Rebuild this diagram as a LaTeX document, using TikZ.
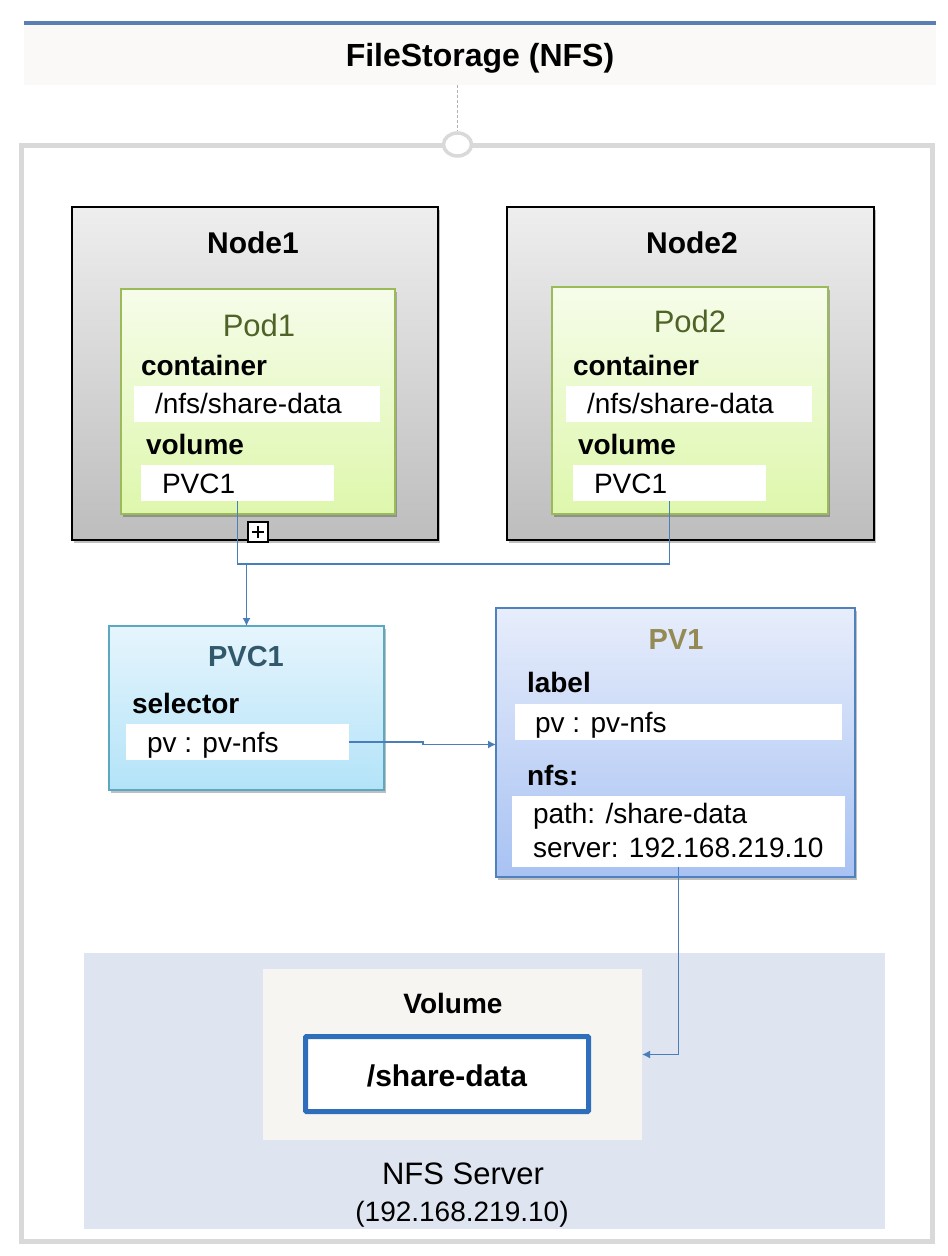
\documentclass[tikz,border=0pt]{standalone}
\usepackage{fontspec}
\setmainfont{Liberation Sans}
\usetikzlibrary{shadows,arrows.meta,calc,shapes.geometric}
\definecolor{hdrblue}{HTML}{5B7FB3}
\definecolor{hdrbg}{HTML}{FAF9F7}
\definecolor{framegray}{HTML}{D9D9D9}
\definecolor{nodetop}{HTML}{EEEEEE}
\definecolor{nodebot}{HTML}{BDBDBD}
\definecolor{podtop}{HTML}{F6FCEA}
\definecolor{podbot}{HTML}{DEF7AC}
\definecolor{podline}{HTML}{9BBB59}
\definecolor{podtext}{HTML}{4F6228}
\definecolor{pvctop}{HTML}{E6F5FD}
\definecolor{pvcbot}{HTML}{B3E3F8}
\definecolor{pvcline}{HTML}{5AA9C0}
\definecolor{pvctext}{HTML}{31596B}
\definecolor{pvtop}{HTML}{E7EDFB}
\definecolor{pvbot}{HTML}{A8C2F3}
\definecolor{pvline}{HTML}{4F81BD}
\definecolor{pvtext}{HTML}{948A54}
\definecolor{connblue}{HTML}{4A7EBB}
\definecolor{nfsbg}{HTML}{DEE4F0}
\definecolor{volbg}{HTML}{F6F5F2}
\definecolor{sdline}{HTML}{2F6EBA}
\begin{document}
\begin{tikzpicture}[x=1pt,y=-1pt,
  box/.style={inner sep=0, outer sep=0, anchor=north west},
  shad/.style={drop shadow={shadow xshift=2pt, shadow yshift=-3pt, opacity=0.25, fill=black}},
  nodebox/.style={box, shad, draw=black, line width=2, top color=nodetop, bottom color=nodebot},
  podbox/.style={box, shad, draw=podline, line width=2, top color=podtop, bottom color=podbot},
  pvcbox/.style={box, shad, draw=pvcline, line width=2, top color=pvctop, bottom color=pvcbot},
  pvbox/.style={box, shad, draw=pvline, line width=2, top color=pvtop, bottom color=pvbot},
  wbox/.style={box, fill=white},
  txt/.style={inner sep=0, outer sep=0},
  tb/.style={txt, font=\fontsize{28}{32}\selectfont\bfseries},
  tr/.style={txt, font=\fontsize{28}{32}\selectfont},
  ttl/.style={txt, font=\fontsize{30}{34}\selectfont\bfseries, anchor=base},
  conn/.style={draw=connblue, line width=1.5},
  arr/.style={conn, -{Latex[length=8,width=8]}}
]
\useasboundingbox (0,0) rectangle (948,1256);

% header
\fill[hdrbg] (24,25) rectangle (936,85);
\draw[hdrblue, line width=4] (24,23) -- (936,23);
\node[txt, anchor=base, font=\fontsize{32}{36}\selectfont\bfseries] (title) at (480,66) {FileStorage (NFS)};

% outer frame
\node[box, draw=framegray, line width=5, minimum width=911, minimum height=1096] (frame) at (21,145.5) {};
\node[draw=framegray, line width=3.5, fill=white, ellipse, minimum width=28, minimum height=23, inner sep=0] (knob) at (457.5,144.5) {};
\draw[gray!60, line width=0.8, densely dashed] (457.5,85) -- (knob.north);

% Node1
\node[nodebox, minimum width=366, minimum height=333] (node1) at (72,207) {};
\node[ttl] (node1t) at (253,253) {Node1};
\node[podbox, minimum width=274, minimum height=225] (pod1) at (121,289) {};
\node[txt, anchor=base, font=\fontsize{31}{34}\selectfont, text=podtext] (pod1t) at (259,336) {Pod1};
\node[tb, anchor=base west] (c1) at (141,375) {container};
\node[wbox, minimum width=246, minimum height=36] (c1box) at (134,386) {};
\node[tr, anchor=base west] (c1v) at (155,413) {/nfs/share-data};
\node[tb, anchor=base west] (v1) at (146,454) {volume};
\node[wbox, minimum width=193, minimum height=36] (p1vol) at (141,465) {};
\node[tr, anchor=base west] (p1volt) at (162,493) {PVC1};

% Node2
\node[nodebox, minimum width=367, minimum height=333] (node2) at (507,207) {};
\node[ttl] (node2t) at (692,253) {Node2};
\node[podbox, minimum width=276, minimum height=227] (pod2) at (552,287) {};
\node[txt, anchor=base, font=\fontsize{31}{34}\selectfont, text=podtext] (pod2t) at (690,332) {Pod2};
\node[tb, anchor=base west] (c2) at (573,375) {container};
\node[wbox, minimum width=246, minimum height=36] (c2box) at (566,386) {};
\node[tr, anchor=base west] (c2v) at (587,413) {/nfs/share-data};
\node[tb, anchor=base west] (v2) at (578,454) {volume};
\node[wbox, minimum width=193, minimum height=36] (p2vol) at (573,465) {};
\node[tr, anchor=base west] (p2volt) at (594,493) {PVC1};

% plus marker
\node[box, draw=black, fill=white, line width=1.5, minimum width=20, minimum height=20] (plus) at (248,522) {};
\draw[black, line width=1.5] ([xshift=-6]plus.center) -- ([xshift=6]plus.center)
  ([yshift=-6]plus.center) -- ([yshift=6]plus.center);

% PVC1
\node[pvcbox, minimum width=275, minimum height=164] (pvc) at (109,626) {};
\node[ttl, text=pvctext, font=\fontsize{29}{33}\selectfont\bfseries] (pvct) at (246,666) {PVC1};
\node[tb, anchor=base west] (sel) at (132,713) {selector};
\node[wbox, minimum width=223, minimum height=36] (pvcsel) at (126,724) {};
\node[tr, anchor=base west] (pvcselt) at (147,752) {pv : pv-nfs};

% PV1
\node[pvbox, minimum width=359, minimum height=269] (pv) at (496,608) {};
\node[ttl, text=pvtext, font=\fontsize{29}{33}\selectfont\bfseries] (pvt) at (676,649) {PV1};
\node[tb, anchor=base west] (lab) at (527,692) {label};
\node[wbox, minimum width=327, minimum height=36] (pvlab) at (515,704) {};
\node[tr, anchor=base west] (pvlabt) at (535,732) {pv : pv-nfs};
\node[tb, anchor=base west] (nfs) at (527,785) {nfs:};
\node[wbox, minimum width=333, minimum height=71] (pvnfs) at (512,796) {};
\node[tr, anchor=base west] (path) at (533,823) {path: /share-data};
\node[tr, anchor=base west] (srv) at (533,857) {server: 192.168.219.10};

% NFS server
\node[box, fill=nfsbg, minimum width=801, minimum height=276] (nfsbgbox) at (84,953) {};
\node[box, fill=volbg, minimum width=379, minimum height=171] (volbox) at (263,969) {};
\node[tb, anchor=base] (volt) at (453,1013) {Volume};
\node[box, fill=white, draw=sdline, line width=5, rounded corners=1, minimum width=283, minimum height=75] (sd) at (305.5,1036.5) {};
\node[txt, anchor=base, font=\fontsize{30}{34}\selectfont\bfseries] (sdt) at (447,1086) {/share-data};
\node[txt, anchor=base, font=\fontsize{31}{34}\selectfont] (nfst) at (463,1184) {NFS Server};
\node[txt, anchor=base, font=\fontsize{28}{34}\selectfont] (nfsip) at (462,1221) {(192.168.219.10)};

% connectors
\coordinate (jn) at (pvc.north |- 0,564);
\draw[conn] (p1vol.south) -- ++(0,63) -| (p2vol.south);
\draw[arr] (jn) -- (pvc.north);
\draw[arr] (pvcsel.east) -- ++(74,0) |- ([yshift=-2]pv.west);
\draw[arr] (pvnfs.south) |- (volbox.east);
\end{tikzpicture}
\end{document}
